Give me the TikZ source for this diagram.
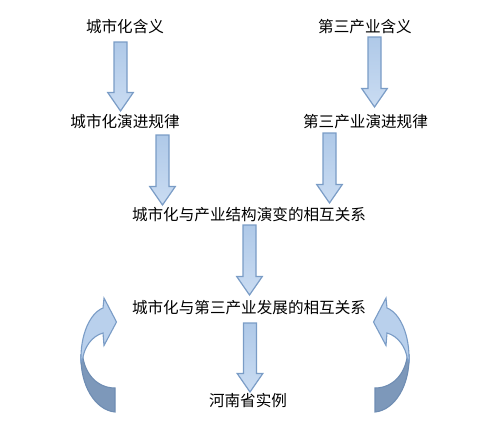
\documentclass[tikz,border=0pt]{standalone}
\usepackage{fontspec}
\setmainfont{Noto Sans CJK SC}
\usetikzlibrary{calc}
\definecolor{arrfill}{HTML}{B9D0EC}
\definecolor{arrfilltop}{HTML}{AFC9E8}
\definecolor{arrfillbot}{HTML}{CADCF2}
\definecolor{arrline}{HTML}{7A9CC6}
\definecolor{darkfill}{HTML}{7D98BA}
\definecolor{darkline}{HTML}{6F8DB3}
\tikzset{
  lbl/.style={inner sep=0pt, font=\fontsize{15.6}{18}\selectfont, text=black},
  blockarr/.style={draw=arrline, line width=1.2pt, line join=miter, top color=arrfilltop, bottom color=arrfillbot},
  curvelight/.style={draw=arrline, line width=1.1pt, line join=miter, fill=arrfill},
  curvedark/.style={draw=darkline, line width=1.1pt, fill=darkfill},
}
% block arrow: x, top y, tip y
\newcommand\mybarrow[3]{%
  \path[blockarr] (#1-6.5,#2) -- (#1+6.5,#2) -- (#1+6.5,#3-18.5) -- (#1+12.8,#3-18.5)
    -- (#1,#3) -- (#1-12.8,#3-18.5) -- (#1-6.5,#3-18.5) -- cycle;}
\newcommand\mycurvearrow{%
  \path[curvedark] (81,355) .. controls (80,385) and (95,410) .. (115,412) -- (115,388)
     .. controls (98,388) and (85,375) .. (82.5,355) -- cycle;
  \path[curvelight] (81,362) .. controls (80,335) and (90,313) .. (103,308) -- (104,298)
     -- (116.5,322) -- (104,345.5) -- (103,333) .. controls (92,336) and (84,347) .. (82.5,360) -- cycle;}
\begin{document}
\begin{tikzpicture}[x=1pt,y=-1pt]
\useasboundingbox (0,0) rectangle (481,421);
\node[lbl] (t1) at (125,27) {城市化含义};
\node[lbl] (t2) at (365,27) {第三产业含义};
\node[lbl] (t3) at (125,122) {城市化演进规律};
\node[lbl] (t4) at (365.5,122) {第三产业演进规律};
\node[lbl] (t5) at (249,215) {城市化与产业结构演变的相互关系};
\node[lbl] (t6) at (249,308) {城市化与第三产业发展的相互关系};
\node[lbl] (t7) at (248,401) {河南省实例};
\mybarrow{120.5}{42}{111}
\mybarrow{374.5}{37}{107}
\mybarrow{162.5}{135}{205}
\mybarrow{329.5}{133}{203}
\mybarrow{249.5}{225}{295}
\mybarrow{250}{323}{392}
\begin{scope}
\mycurvearrow
\end{scope}
\begin{scope}[xshift=490pt, xscale=-1]
\mycurvearrow
\end{scope}
\end{tikzpicture}
\end{document}
